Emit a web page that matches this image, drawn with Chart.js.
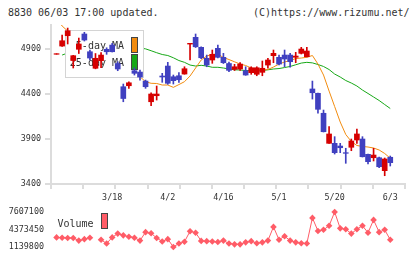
<!DOCTYPE html>
<html>
<head>
<meta charset="utf-8">
<script src="https://cdn.jsdelivr.net/npm/chart.js@4.4.1/dist/chart.umd.min.js"></script>
<style>
  body { margin: 0; background: #fff; }
  #wrap { position: relative; width: 420px; height: 259px; overflow: hidden; }
  .hdr { position: absolute; top: 8px; font: 10px "DejaVu Sans Mono", monospace; line-height: 10px; color: #333; white-space: nowrap; }
  canvas { position: absolute; left: 0; }
</style>
</head>
<body>
<div id="wrap">
  <div class="hdr" style="left:8px">8830 06/03 17:00 updated.</div>
  <div class="hdr" style="left:253px">(C)https://www.rizumu.net/</div>
  <canvas id="price" width="420" height="206" style="top:0"></canvas>
  <canvas id="volume" width="420" height="59" style="top:200px"></canvas>
</div>
<script>
const dates = ["3/4","3/5","3/6","3/7","3/8","3/11","3/12","3/13","3/14","3/15",
  "3/18","3/19","3/21","3/22","3/25","3/26","3/27","3/28","3/29","4/1",
  "4/2","4/3","4/4","4/5","4/8","4/9","4/10","4/11","4/12","4/15",
  "4/16","4/17","4/18","4/19","4/22","4/23","4/24","4/25","4/26","4/30",
  "5/1","5/2","5/7","5/8","5/9","5/10","5/13","5/14","5/15","5/16",
  "5/20","5/21","5/22","5/23","5/24","5/27","5/28","5/29","5/30","5/31","6/3"];
const tickDates = ["3/18", "4/2", "4/16", "5/1", "5/20", "6/3"];

const opens  = [4842,4933,5048,4772,4897,5067,4870,4686,4770,4897,4944,4739,4481,4492,4659,4644,4544,4314,4381,4600,
  4711,4592,4603,4622,4955,5030,4919,4797,4778,4908,4808,4739,4674,4678,4659,4637,4619,4641,4722,4826,
  4808,4833,4833,4808,4852,4814,4456,4408,4186,3852,3852,3822,3748,3808,3889,3900,3730,3692,3692,3548,3697];
const highs  = [4848,5056,5133,4830,5022,5086,4889,4850,4861,4914,4963,4759,4511,4536,4692,4667,4555,4414,4489,4630,
  4752,4611,4637,4703,4963,5067,4925,4833,4889,4944,4852,4756,4730,4750,4703,4703,4703,4767,4797,4889,
  4833,4889,4852,4863,4919,4919,4544,4411,4222,4037,3926,3852,3797,3900,4011,3926,3733,3797,3700,3689,3711];
const lows   = [4842,4930,4956,4689,4850,4989,4778,4680,4694,4841,4867,4659,4314,4463,4611,4555,4463,4270,4333,4530,
  4508,4511,4530,4620,4778,4917,4794,4703,4741,4800,4739,4648,4661,4661,4608,4619,4603,4603,4686,4748,
  4722,4703,4697,4748,4845,4811,4344,4186,3978,3850,3733,3748,3630,3770,3852,3700,3622,3656,3581,3492,3600];
const closes = [4848,4992,5103,4826,4956,5000,4800,4797,4833,4870,4870,4678,4350,4525,4630,4589,4481,4400,4400,4589,
  4519,4548,4559,4681,4963,4925,4803,4722,4841,4808,4748,4663,4703,4733,4611,4692,4692,4686,4778,4852,
  4733,4789,4759,4822,4900,4878,4414,4230,3981,3956,3748,3803,3741,3878,3956,3703,3648,3722,3592,3678,3637];

const ma5  = [5240,5156,5100,5030,4975,4970,4930,4880,4850,4830,4835,4810,4720,4660,4615,4592,4537,4519,4517,4500,
  4500,4474,4505,4537,4600,4689,4778,4822,4841,4844,4806,4783,4758,4733,4717,4689,4672,4667,4672,4700,
  4733,4756,4772,4794,4800,4808,4828,4733,4611,4433,4261,4089,3950,3872,3828,3817,3811,3800,3778,3739,3686];
const ma25 = [null,4833,4856,4860,4866,4872,4878,4883,4889,4894,4900,4903,4905,4908,4910,4911,4902,4881,4859,4839,
  4828,4803,4772,4752,4722,4711,4719,4711,4697,4697,4689,4678,4669,4667,4661,4661,4656,4661,4669,4678,
  4683,4694,4706,4725,4744,4752,4746,4728,4706,4672,4622,4589,4550,4522,4489,4444,4406,4367,4328,4283,4239];

const volume = [2913500,2858500,2805100,2805100,2320100,2590100,2858500,null,2481800,1781700,
  2913500,3613500,3290200,3020200,2858500,2320100,3883600,3666900,2805100,2158400,
  2590100,1139800,1781700,2105000,4045200,3775200,2266700,2211700,2158400,2050100,
  2320100,1781700,1620000,1620000,1996700,2211700,1835000,1996700,2320100,4853700,
  2481800,3128500,2320100,1996700,1835000,1781700,6523800,4098600,4313600,5068700,
  7607100,4583600,4422000,3613500,4422000,5068700,3775200,6147100,3883600,4313600,2481800];

const priceTicks = [3400, 3900, 4400, 4900];
const volumeTicks = [1139800, 4373450, 7607100];

const UP = "#d60000", DOWN = "#4040c0";
const ORANGE = "#f28c0f", GREEN = "#17a817", VOL = "#ff5c67";
const AXIS = "#dcdcdc";
const FONT = "DejaVu Sans Mono";
const tickFont = { family: FONT, size: 8.4 };
const X_MIN = -1, X_MAX = 62.65;

const candleColors = closes.map((c, i) => c >= opens[i] ? UP : DOWN);
const pts = arr => arr.map((v, i) => ({ x: i, y: v }));
const plain = v => String(v);

// legend sits above the MA lines but under the candles
const maLegend = {
  id: "maLegend",
  beforeDatasetDraw(chart, args) {
    if (args.index !== 2) return;
    const ctx = chart.ctx;
    ctx.save();
    ctx.fillStyle = "#fff";
    ctx.fillRect(66, 30, 77, 47);
    ctx.strokeStyle = "#d4d4d4";
    ctx.lineWidth = 1;
    ctx.strokeRect(65.5, 30.5, 78, 47);
    ctx.font = '10px "' + FONT + '"';
    ctx.fillStyle = "#333";
    ctx.textAlign = "right";
    ctx.fillText("5-day MA", 124, 49);
    ctx.fillText("25-day MA", 124, 66);
    ctx.strokeStyle = "#444";
    ctx.fillStyle = ORANGE;
    ctx.fillRect(131.5, 37.5, 6, 15);
    ctx.strokeRect(131.5, 37.5, 6, 15);
    ctx.fillStyle = GREEN;
    ctx.fillRect(131.5, 54.5, 6, 15);
    ctx.strokeRect(131.5, 54.5, 6, 15);
    ctx.restore();
  }
};

const volLegend = {
  id: "volLegend",
  afterDatasetsDraw(chart) {
    const ctx = chart.ctx;
    ctx.save();
    ctx.font = '10px "' + FONT + '"';
    ctx.fillStyle = "#333";
    ctx.fillText("Volume", 57.5, 26.5);
    ctx.fillStyle = VOL;
    ctx.fillRect(101.5, 13.5, 6, 15);
    ctx.strokeStyle = "#444";
    ctx.lineWidth = 1;
    ctx.strokeRect(101.5, 13.5, 6, 15);
    ctx.restore();
  }
};

new Chart(document.getElementById("price"), {
  type: "bar",
  data: {
    datasets: [
      { type: "line", data: pts(ma25), borderColor: GREEN, borderWidth: 1, pointRadius: 0, order: 4 },
      { type: "line", data: pts(ma5), borderColor: ORANGE, borderWidth: 1, pointRadius: 0, order: 3 },
      { data: lows.map((l, i) => ({ x: i, y: [l, highs[i]] })), backgroundColor: candleColors,
        barThickness: 1, grouped: false, order: 2 },
      { data: opens.map((o, i) => ({ x: i, y: [o, closes[i]] })), backgroundColor: candleColors,
        barThickness: 5, grouped: false, order: 1 }
    ]
  },
  options: {
    responsive: false,
    animation: false,
    devicePixelRatio: 1,
    layout: { padding: { left: 0, right: 15, top: 25, bottom: 0 } },
    plugins: { legend: { display: false }, tooltip: { enabled: false } },
    scales: {
      x: {
        type: "linear", min: X_MIN, max: X_MAX, offset: false, weight: 1,
        grid: { display: false, drawTicks: false, offset: false },
        border: { display: false },
        afterBuildTicks: s => { s.ticks = tickDates.map(d => ({ value: dates.indexOf(d) })); },
        afterFit: s => { s.height = 17; },
        ticks: { callback: v => dates[v], padding: 4, maxRotation: 0, autoSkip: false, font: tickFont, color: "#333" }
      },
      xg: {
        type: "linear", position: "bottom", min: 0, max: 11, offset: false, weight: 0,
        grid: { drawOnChartArea: false, color: AXIS, lineWidth: 2, tickLength: 5, offset: false },
        border: { color: AXIS, width: 2 },
        afterBuildTicks: s => { s.ticks = Array.from({ length: 12 }, (_, i) => ({ value: i })); },
        afterFit: s => { s.height = 5; },
        ticks: { display: false }
      },
      y: {
        min: 3400, max: 5167,
        afterBuildTicks: s => { s.ticks = priceTicks.map(v => ({ value: v })); },
        afterFit: s => { s.width = 51; },
        grid: { drawOnChartArea: false, color: AXIS, lineWidth: 2, tickLength: 6 },
        border: { color: AXIS, width: 2 },
        ticks: { callback: plain, padding: 4, font: tickFont, color: "#333" }
      }
    }
  },
  plugins: [maLegend]
});

new Chart(document.getElementById("volume"), {
  type: "line",
  data: {
    datasets: [{
      data: pts(volume), borderColor: VOL, backgroundColor: VOL, borderWidth: 1,
      pointStyle: "rectRot", pointRadius: 3.3, pointBorderWidth: 0, spanGaps: false, clip: false
    }]
  },
  options: {
    responsive: false,
    animation: false,
    devicePixelRatio: 1,
    layout: { padding: { left: 0, right: 15, top: 9.3, bottom: 9.7 } },
    plugins: { legend: { display: false }, tooltip: { enabled: false } },
    scales: {
      x: { type: "linear", min: X_MIN, max: X_MAX, display: false },
      y: {
        min: volumeTicks[0], max: volumeTicks[2],
        afterBuildTicks: s => { s.ticks = volumeTicks.map(v => ({ value: v })); },
        afterFit: s => { s.width = 51; },
        grid: { display: false, drawTicks: false },
        border: { display: false },
        ticks: { callback: plain, padding: 7, font: tickFont, color: "#333" }
      }
    }
  },
  plugins: [volLegend]
});
</script>
</body>
</html>
